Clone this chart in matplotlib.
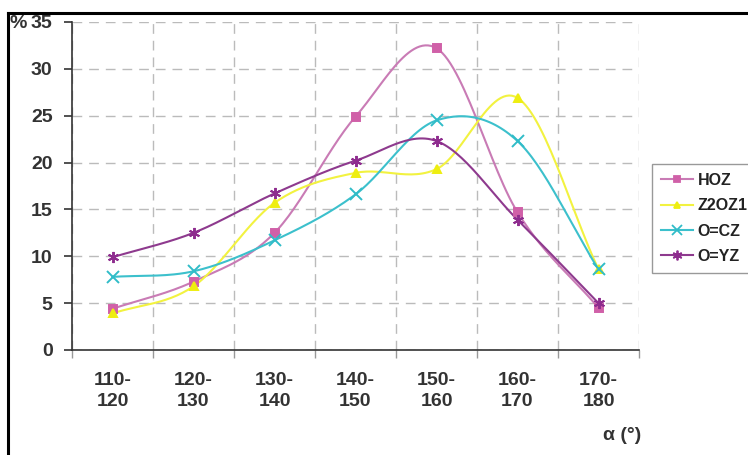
import numpy as np
import matplotlib
matplotlib.use("Agg")
import matplotlib.pyplot as plt
from matplotlib.lines import Line2D

categories = ["110-\n120", "120-\n130", "130-\n140", "140-\n150", "150-\n160", "160-\n170", "170-\n180"]
hoz = [4.4, 7.3, 12.5, 24.9, 32.2, 14.7, 4.5]
z2oz1 = [3.9, 6.8, 15.7, 18.9, 19.3, 26.9, 8.6]
ocz = [7.8, 8.4, 11.7, 16.6, 24.5, 22.3, 8.6]
oyz = [9.9, 12.5, 16.7, 20.2, 22.3, 13.9, 5.0]

series_names = ["HOZ", "Z2OZ1", "O=CZ", "O=YZ"]
colors = ["#D060A8", "#EEEE10", "#30BCC8", "#8E2C8E"]
line_colors = ["#C97BB5", "#F2F240", "#3CC0CC", "#8E3A8E"]
markers = ["s", "^", "x", (6, 2, 0)]

plt.rcParams["font.family"] = ["Liberation Sans", "DejaVu Sans"]
plt.rcParams["font.weight"] = "bold"

FS = 14
TXT = "#333333"

fig = plt.figure(figsize=(7.48, 4.55), dpi=100)
W, H = 748, 455
ax = fig.add_axes([72 / W, 1 - 350 / H, (639 - 72) / W, (350 - 22) / H])

def catmull(xs, ys, n=30):
    xs = np.asarray(xs, float); ys = np.asarray(ys, float)
    px = np.concatenate([[2 * xs[0] - xs[1]], xs, [2 * xs[-1] - xs[-2]]])
    py = np.concatenate([[2 * ys[0] - ys[1]], ys, [2 * ys[-1] - ys[-2]]])
    outx, outy = [], []
    t = np.linspace(0, 1, n)
    for i in range(1, len(px) - 2):
        p0, p1, p2, p3 = (px[i-1], py[i-1]), (px[i], py[i]), (px[i+1], py[i+1]), (px[i+2], py[i+2])
        c1 = (p1[0] + (p2[0] - p0[0]) / 6, p1[1] + (p2[1] - p0[1]) / 6)
        c2 = (p2[0] - (p3[0] - p1[0]) / 6, p2[1] - (p3[1] - p1[1]) / 6)
        bx = (1-t)**3*p1[0] + 3*(1-t)**2*t*c1[0] + 3*(1-t)*t**2*c2[0] + t**3*p2[0]
        by = (1-t)**3*p1[1] + 3*(1-t)**2*t*c1[1] + 3*(1-t)*t**2*c2[1] + t**3*p2[1]
        outx.extend(bx); outy.extend(by)
    return np.array(outx), np.array(outy)

x = np.arange(len(categories)) + 0.5
handles = []
for vals, name, c, lc, m in zip([hoz, z2oz1, ocz, oyz], series_names, colors, line_colors, markers):
    sx, sy = catmull(x, vals)
    ax.plot(sx, sy, color=lc, lw=1.5, zorder=3)
    ms = 6 if m in ("s", "^") else 8
    ax.plot(x, vals, linestyle="none", marker=m, color=c, markersize=ms,
            markeredgewidth=1.4, zorder=4)
    hms = ms - 1
    handles.append(Line2D([0], [0], color=lc, lw=1.5, marker=m, markerfacecolor=c,
                          markeredgecolor=c, markersize=hms, markeredgewidth=1.3))

ax.set_xlim(0, 7)
ax.set_ylim(0, 35)
ax.set_yticks(np.arange(0, 36, 5))
ax.set_xticks(np.arange(0, 8, 1))
ax.set_xticklabels([])
ax.set_xticks(x, minor=True)
ax.set_xticklabels(categories, minor=True, linespacing=1.3)
ax.tick_params(axis="x", which="minor", length=0, pad=16, labelsize=FS, labelcolor=TXT)
ax.tick_params(axis="x", which="major", length=6, color="#999999", width=1)
ax.tick_params(axis="y", length=6, width=1.2, color="#333333", pad=8, labelsize=FS, labelcolor=TXT)

for s in ["top", "right"]:
    ax.spines[s].set_visible(False)
for s in ["left", "bottom"]:
    ax.spines[s].set_color("#333333")
    ax.spines[s].set_linewidth(1.2)

ax.grid(True, which="major", color="#BBBBBB", linestyle=(0, (7, 5)), linewidth=1)
ax.set_axisbelow(True)

fig.text(10 / W, 1 - 23 / H, "%", fontsize=FS, fontweight="bold", color=TXT, va="center", ha="left")
fig.text(622 / W, 1 - 435 / H, "α (°)", fontsize=FS, fontweight="bold", color=TXT, va="center", ha="center")

leg = fig.legend(handles, series_names, loc="upper left", bbox_to_anchor=(652 / W, 1 - 164 / H),
                 bbox_transform=fig.transFigure, borderaxespad=0, fancybox=False, framealpha=1,
                 edgecolor="#999999", prop={"size": 11.5, "weight": "bold"}, handlelength=2.0,
                 handletextpad=0.3, labelspacing=0.65, borderpad=0.55, numpoints=1)
for t in leg.get_texts():
    t.set_color("#222222")

fig.add_artist(Line2D([8 / W, 1], [1 - 13 / H, 1 - 13 / H], color="black", lw=2.2, transform=fig.transFigure))
fig.add_artist(Line2D([8 / W, 8 / W], [0, 1 - 13 / H], color="black", lw=2.2, transform=fig.transFigure))

fig.savefig("out.png", dpi=100)
